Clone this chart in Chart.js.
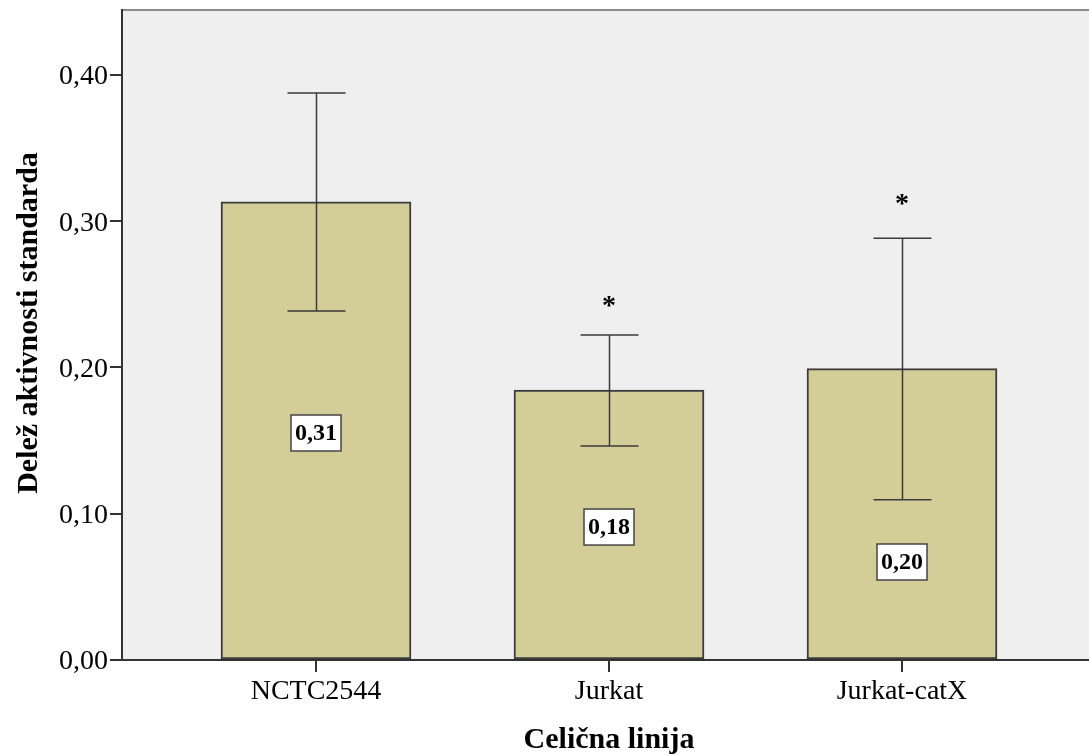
<!DOCTYPE html>
<html>
<head>
<meta charset="utf-8">
<script src="https://cdn.jsdelivr.net/npm/chart.js@4/dist/chart.umd.min.js"></script>
<style>
    html, body { margin: 0; padding: 0; background: #ffffff; }
    #wrap { width: 1089px; height: 755px; }
</style>
</head>
<body>
<div id="wrap"><canvas id="activity_chart" width="1089" height="755"></canvas></div>
<script>
const categories = ['NCTC2544', 'Jurkat', 'Jurkat-catX'];
const means = [0.3132, 0.1846, 0.1992];
const err_low = [0.2386, 0.1463, 0.1096];
const err_high = [0.3877, 0.2222, 0.2883];
const value_labels = ['0,31', '0,18', '0,20'];
const value_label_at = [0.1552, 0.0909, 0.0670];
const marks = ['', '*', '*'];
const mark_at = [null, 0.2475, 0.3173];
const y_ticks = [0, 0.1, 0.2, 0.3, 0.4];

const y_title = 'Delež aktivnosti standarda';
const x_title = 'Celična linija';

const SERIF = "'Liberation Serif', 'Times New Roman', serif";

/*
 * Plugin that paints the grey plot background, the top frame line,
 * the error bars, the value boxes, the asterisks and both axis titles
 */
const decorPlugin = {
    id: 'decor',
    beforeDraw: function(chart) {
        const ctx = chart.ctx;
        const a = chart.chartArea;
        ctx.save();
        ctx.fillStyle = '#efefef';
        ctx.fillRect(a.left, a.top, a.right - a.left, a.bottom - a.top);
        ctx.strokeStyle = '#8a8a8a';
        ctx.lineWidth = 2;
        ctx.beginPath();
        ctx.moveTo(a.left, a.top);
        ctx.lineTo(a.right, a.top);
        ctx.stroke();
        ctx.restore();
    },
    afterDatasetsDraw: function(chart) {
        const ctx = chart.ctx;
        const xs = chart.scales.x;
        const ys = chart.scales.y;
        ctx.save();

        // error bars
        ctx.strokeStyle = '#3a3a3a';
        ctx.lineWidth = 1.5;
        for (let i = 0; i < categories.length; i++) {
            const x = Math.round(xs.getPixelForValue(i)) + 0.5;
            const yl = ys.getPixelForValue(err_low[i]);
            const yh = ys.getPixelForValue(err_high[i]);
            ctx.beginPath();
            ctx.moveTo(x, yl);
            ctx.lineTo(x, yh);
            ctx.moveTo(x - 29, yl);
            ctx.lineTo(x + 29, yl);
            ctx.moveTo(x - 29, yh);
            ctx.lineTo(x + 29, yh);
            ctx.stroke();
        }

        // value boxes
        ctx.font = 'bold 24px ' + SERIF;
        ctx.textAlign = 'center';
        ctx.textBaseline = 'middle';
        for (let i = 0; i < categories.length; i++) {
            const x = xs.getPixelForValue(i);
            const y = ys.getPixelForValue(value_label_at[i]);
            ctx.fillStyle = '#ffffff';
            ctx.fillRect(x - 25, y - 18, 50, 36);
            ctx.strokeStyle = '#444444';
            ctx.lineWidth = 1.5;
            ctx.strokeRect(x - 25, y - 18, 50, 36);
            ctx.fillStyle = '#000000';
            ctx.fillText(value_labels[i], x, y + 1);
        }

        // significance marks
        ctx.font = 'bold 28px ' + SERIF;
        ctx.textBaseline = 'alphabetic';
        for (let i = 0; i < categories.length; i++) {
            if (!marks[i]) continue;
            const x = xs.getPixelForValue(i);
            const y = ys.getPixelForValue(mark_at[i]);
            ctx.fillText(marks[i], x, y + 16);
        }
        ctx.restore();
    },
    afterDraw: function(chart) {
        const ctx = chart.ctx;
        ctx.save();
        ctx.fillStyle = '#000000';
        ctx.font = 'bold 30px ' + SERIF;
        ctx.textAlign = 'center';
        ctx.textBaseline = 'middle';
        ctx.translate(29, 323);
        ctx.rotate(-Math.PI / 2);
        ctx.fillText(y_title, 0, 0);
        ctx.restore();

        ctx.save();
        ctx.fillStyle = '#000000';
        ctx.font = 'bold 30px ' + SERIF;
        ctx.textAlign = 'center';
        ctx.textBaseline = 'alphabetic';
        ctx.fillText(x_title, 609, 748);
        ctx.restore();
    }
};

function createActivityChart() {
    const points = [];
    for (let i = 0; i < categories.length; i++) {
        points.push({x: i, y: means[i]});
    }
    const data = {
        datasets: [{
            label: 'Delež',
            data: points,
            backgroundColor: '#d3ce98',
            borderColor: '#3c3c3c',
            borderWidth: 2,
            borderSkipped: false,
            barThickness: 190,
        }]
    };
    const config = {
        type: 'bar',
        data: data,
        options: {
            responsive: false,
            animation: false,
            layout: {
                padding: {top: 10, right: 0, left: 0, bottom: 0}
            },
            scales: {
                x: {
                    type: 'linear',
                    offset: false,
                    min: (122 - 316) / 293,
                    max: (1089 - 316) / 293,
                    afterBuildTicks: function(scale) {
                        scale.ticks = categories.map(function(c, i) { return {value: i}; });
                    },
                    afterFit: function(scale) {
                        scale.height = 95;
                        scale.paddingLeft = 0;
                        scale.paddingRight = 0;
                    },
                    grid: {
                        offset: false,
                        drawOnChartArea: false,
                        drawTicks: true,
                        tickLength: 12,
                        color: '#333333',
                        lineWidth: 2,
                    },
                    border: {color: '#333333', width: 2},
                    ticks: {
                        autoSkip: false,
                        maxRotation: 0,
                        padding: 3,
                        color: '#000000',
                        font: {family: SERIF, size: 28},
                        callback: function(v) { return categories[v]; }
                    }
                },
                y: {
                    min: 0,
                    max: 0.4444,
                    afterBuildTicks: function(scale) {
                        scale.ticks = y_ticks.map(function(v) { return {value: v}; });
                    },
                    afterFit: function(scale) {
                        scale.width = 122;
                        scale.paddingTop = 0;
                        scale.paddingBottom = 0;
                    },
                    grid: {
                        drawOnChartArea: false,
                        drawTicks: true,
                        tickLength: 12,
                        color: '#333333',
                        lineWidth: 2,
                    },
                    border: {color: '#333333', width: 2},
                    ticks: {
                        padding: 2,
                        labelOffset: 2,
                        color: '#000000',
                        font: {family: SERIF, size: 28},
                        callback: function(v) { return v.toFixed(2).replace('.', ','); }
                    }
                }
            },
            plugins: {
                legend: {display: false},
                tooltip: {enabled: false},
                title: {display: false}
            }
        },
        plugins: [decorPlugin]
    };
    const myChart = new Chart(document.getElementById('activity_chart'), config);
}

createActivityChart();
</script>
</body>
</html>
